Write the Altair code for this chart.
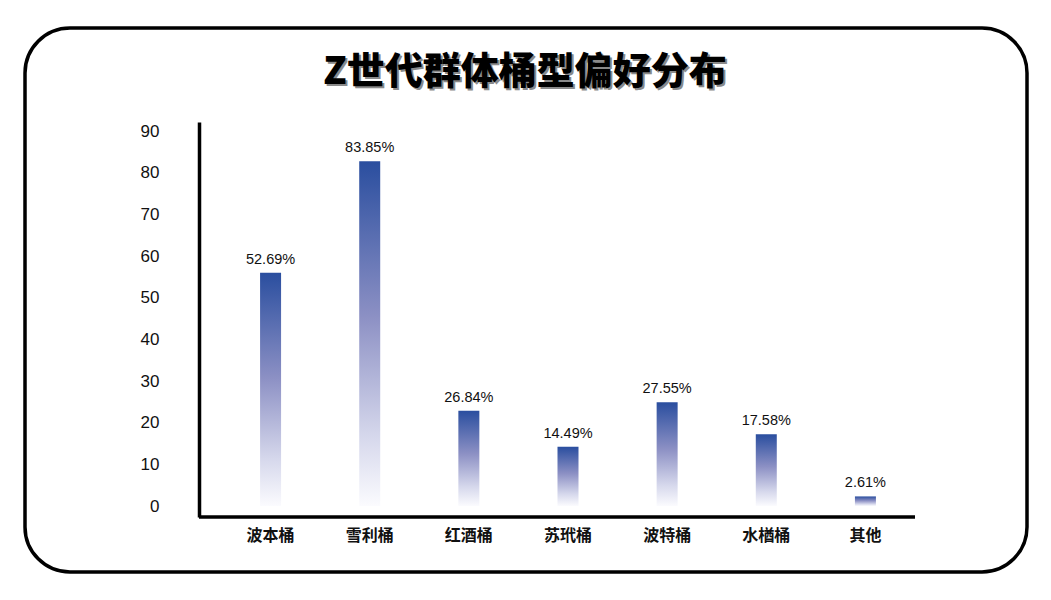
import altair as alt
import pandas as pd

categories = ["波本桶", "雪利桶", "红酒桶", "苏玳桶", "波特桶", "水楢桶", "其他"]
bar_values = [56.0, 82.8, 22.9, 14.2, 24.9, 17.2, 2.3]
bar_labels = ["52.69%", "83.85%", "26.84%", "14.49%", "27.55%", "17.58%", "2.61%"]
y_ticks = [0, 10, 20, 30, 40, 50, 60, 70, 80, 90]
title_text = "Z世代群体桶型偏好分布"

df = pd.DataFrame({"cat": categories, "val": bar_values, "lab": bar_labels})

W, H = 694, 395
CJK = "Noto Sans CJK SC"
LAT = "Liberation Sans"

x_enc = alt.X("cat:N", sort=categories, title=None,
              scale=alt.Scale(paddingInner=0, paddingOuter=0),
              axis=alt.Axis(domain=False, ticks=False, labelAngle=0,
                            labelFont=CJK, labelFontSize=16, labelFontWeight="bold",
                            labelColor="#111111", labelPadding=10))
y_scale = alt.Scale(domain=[-2.64, 92.2], nice=False, zero=False)

grad = alt.Gradient(
    gradient="linear",
    stops=[alt.GradientStop(color="#2a4e9f", offset=0),
           alt.GradientStop(color="#8c90c4", offset=0.45),
           alt.GradientStop(color="#d6d8ec", offset=0.8),
           alt.GradientStop(color="#fbfbfe", offset=1)],
    x1=0, x2=0, y1=0, y2=1)

bars = alt.Chart(df).mark_bar(size=21, color=grad).encode(
    x=x_enc,
    y=alt.Y("val:Q", scale=y_scale, title=None,
            axis=alt.Axis(values=y_ticks, domain=True, domainColor="#000000",
                          domainWidth=3.5, ticks=False, grid=False, offset=22,
                          labelFont=LAT, labelFontSize=17, labelColor="#111111",
                          labelPadding=40)),
    y2=alt.datum(0),
)

texts = alt.Chart(df).mark_text(font=LAT, fontSize=14.5, color="#111111",
                                baseline="bottom", dy=-6).encode(
    x=alt.X("cat:N", sort=categories),
    y=alt.Y("val:Q", scale=y_scale),
    text="lab:N",
)

xline = alt.Chart(df.head(1)).mark_rule(color="#000000", strokeWidth=3.5).encode(
    x=alt.value(-22), x2=alt.value(W), y=alt.value(H))

frame = alt.Chart(df.head(1)).mark_rect(
    fill=None, stroke="#000000", strokeWidth=3.5, cornerRadius=45).encode(
    x=alt.value(-196), x2=alt.value(806), y=alt.value(-94), y2=alt.value(450))

shadow = alt.Chart(df.head(1)).mark_text(
    text=title_text, font=CJK, fontSize=38, fontWeight=900, color="#8a8a8a",
    align="center", baseline="middle").encode(
    x=alt.value(306), y=alt.value(-47))

title = alt.Chart(df.head(1)).mark_text(
    text=title_text, font=CJK, fontSize=38, fontWeight=900, color="#000000",
    align="center", baseline="middle").encode(
    x=alt.value(304), y=alt.value(-49))

chart = alt.layer(frame, bars, texts, xline, shadow, title).properties(
    width=W, height=H,
    background="#ffffff",
    autosize=alt.AutoSizeParams(type="none"),
    padding={"left": 213, "top": 114, "right": 115, "bottom": 60},
).configure_view(strokeWidth=0, stroke=None)

chart.save("out.html", embed_options={"renderer": "svg", "actions": False})
